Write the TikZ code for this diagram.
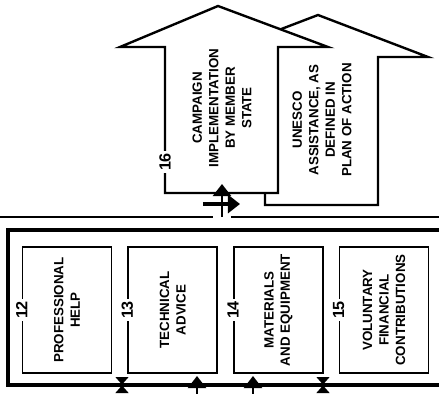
\documentclass[tikz,border=0pt]{standalone}
\usepackage{fontspec}
\setmainfont{Liberation Sans}
\usepackage{tikz}
\usetikzlibrary{arrows.meta,positioning}
\tikzset{
  aidbox/.style={rectangle, draw=black, line width=1.2pt, minimum width=22.25mm, minimum height=31.5mm, inner sep=0pt},
  aidtext/.style={rotate=90, align=center, inner sep=0pt, font=\fontsize{9.5}{11.7}\selectfont\bfseries},
  aidnum/.style={rotate=90, fill=white, inner sep=1.5pt, font=\fontsize{11.5}{11.5}\selectfont\bfseries},
  aidshape/.style={draw=black, fill=white, line width=1.7pt, line join=miter},
  aidline/.style={line width=1.6pt},
  aidframe/.style={line width=2.2pt},
  aidarrow/.style={-{Triangle[length=3mm, width=4.5mm]}, line width=1.6pt},
  aidtwin/.style={{Triangle[reversed, length=1.9mm, width=3.2mm]}-{Triangle[reversed, length=1.9mm, width=3.2mm]}, line width=1.6pt}
}

\begin{document}
\begin{tikzpicture}[x=0.25mm, y=-0.25mm]
\useasboundingbox (0,0) rectangle (439,394);
% the two big arrows, UNESCO one behind
\draw[aidshape] (265,205) -- (378,205) -- (378,57) -- (428,57) -- (318,15) -- (208,57) -- (265,57) -- cycle;
\draw[aidshape] (165,193) -- (278,193) -- (278,47) -- (328,47) -- (218,6) -- (120,47) -- (165,47) -- cycle;
\node[aidtext] (camp) at (222,108) {CAMPAIGN\\IMPLEMENTATION\\BY MEMBER\\STATE};
\node[aidtext] (unesco) at (322,120) {UNESCO\\ASSISTANCE, AS\\DEFINED IN\\PLAN OF ACTION};
\node[aidnum] (n16) at (165,162) {16};
% bar and frame
\draw[aidline] (0,217) -- (213,217);
\draw[aidline] (231,217) -- (439,217);
\draw[aidframe] (439,230) -- (8,230) -- (8,385) -- (439,385);
% the four boxes
\node[aidbox] (b12) at (67,310) {};
\node[aidbox, right=3.75mm of b12] (b13) {};
\node[aidbox, right=3.75mm of b13] (b14) {};
\node[aidbox, right=3.75mm of b14] (b15) {};
\node[aidtext] (t12) at (b12) {PROFESSIONAL\\HELP};
\node[aidtext] (t13) at (b13) {TECHNICAL\\ADVICE};
\node[aidtext] (t14) at (b14) {MATERIALS\\AND EQUIPMENT};
\node[aidtext] (t15) at (b15) {VOLUNTARY\\FINANCIAL\\CONTRIBUTIONS};
\node[aidnum] (n12) at (b12.west) {12};
\node[aidnum] (n13) at (b13.west) {13};
\node[aidnum] (n14) at (b14.west) {14};
\node[aidnum] (n15) at (b15.west) {15};
% links
\coordinate (gap) at (222,217);
\coordinate (campin) at (222,184);
\coordinate (sideL) at (203,204);
\coordinate (sideR) at (240,204);
\draw[aidarrow] (gap) -- (campin);
\draw[aidarrow, line width=2.2pt] (sideL) -- (sideR);
\foreach \x in {122,323} \draw[aidtwin] (\x,377) -- (\x,393);
\foreach \x in {197,253} \draw[aidarrow] (\x,394) -- (\x,376);
\end{tikzpicture}
\end{document}
